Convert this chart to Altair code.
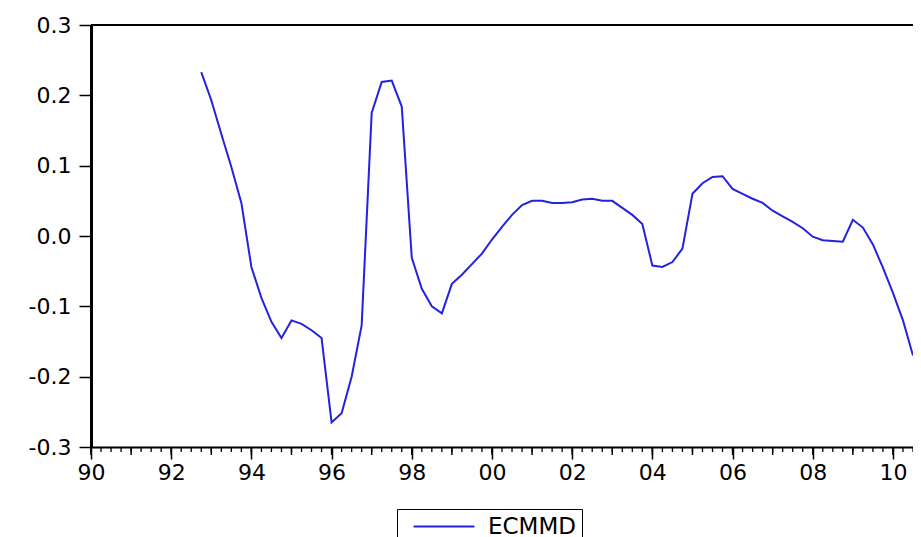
import altair as alt
import pandas as pd

# ---- data ----
series_name = "ECMMD"
start_year, start_quarter = 1992, 4
values = [
    0.233, 0.193, 0.145, 0.098, 0.047,
    -0.044, -0.088, -0.122, -0.145,
    -0.120, -0.125, -0.134, -0.145,
    -0.265, -0.252, -0.200, -0.127,
    0.175, 0.219, 0.221, 0.184,
    -0.031, -0.075, -0.100, -0.110,
    -0.068, -0.055, -0.040, -0.025,
    -0.005, 0.013, 0.030, 0.044,
    0.050, 0.050, 0.047, 0.047,
    0.048, 0.052, 0.053, 0.050,
    0.050, 0.040, 0.030, 0.017,
    -0.042, -0.044, -0.037, -0.018,
    0.060, 0.075, 0.084, 0.085,
    0.067, 0.060, 0.053, 0.047,
    0.036, 0.028, 0.020, 0.011,
    -0.001, -0.006, -0.007, -0.008,
    0.023, 0.012, -0.012, -0.045,
    -0.081, -0.120, -0.170,
]
x_label_years = [1990, 1992, 1994, 1996, 1998, 2000, 2002, 2004, 2006, 2008, 2010]
y_ticks = [-0.3, -0.2, -0.1, 0.0, 0.1, 0.2, 0.3]
x_domain = [1990, 2010.5]
y_domain = [-0.3, 0.3]

# time index (quarterly, plotted at the start of each quarter)
t = []
y, q = start_year, start_quarter
for _ in values:
    t.append(y + (q - 1) / 4)
    q += 1
    if q > 4:
        q = 1
        y += 1

df = pd.DataFrame({"t": t, "v": values, "series": series_name})

quarter_ticks = pd.DataFrame({"t": [1990 + i / 4 for i in range(int((x_domain[1] - 1990) * 4) + 1)]})
year_ticks = pd.DataFrame({"t": list(range(1990, 2011))})

W, H = 822, 422
FONT = "DejaVu Sans"
BLUE = "#2222e0"

xscale = alt.Scale(domain=x_domain, nice=False, zero=False)
yscale = alt.Scale(domain=y_domain, nice=False, zero=False)

line = alt.Chart(df).mark_line(strokeWidth=2).encode(
    x=alt.X("t:Q", scale=xscale,
            axis=alt.Axis(values=x_label_years, title=None, grid=False,
                          labelExpr="substring(toString(datum.value), 2, 4)",
                          tickSize=12, tickWidth=1.5, tickColor="black",
                          domainColor="black", domainWidth=2,
                          labelFont=FONT, labelFontSize=22, labelColor="black",
                          labelPadding=3, labelFlush=False, labelOverlap=False)),
    y=alt.Y("v:Q", scale=yscale,
            axis=alt.Axis(values=y_ticks, title=None, grid=False,
                          labelExpr="(datum.value < 0 ? '-' : '') + format(abs(datum.value), '.1f')",
                          tickSize=12, tickWidth=1.5, tickColor="black",
                          domainColor="black", domainWidth=3,
                          labelFont=FONT, labelFontSize=22, labelColor="black",
                          labelPadding=8, labelFlush=False, labelOverlap=False)),
    color=alt.Color("series:N",
                    scale=alt.Scale(domain=[series_name], range=[BLUE]),
                    legend=alt.Legend(title=None, orient="none", legendX=306, legendY=484,
                                      symbolType="M-0.1,0H6", symbolSize=400,
                                      symbolStrokeWidth=1.8,
                                      labelFont=FONT, labelFontSize=23, labelColor="black",
                                      labelOffset=62, padding=6,
                                      strokeColor="black", fillColor="white")),
)

qt = alt.Chart(quarter_ticks).mark_rule(color="black", strokeWidth=1.3).encode(
    x=alt.X("t:Q", scale=xscale),
    y=alt.value(H), y2=alt.value(H + 5),
)
yt = alt.Chart(year_ticks).mark_rule(color="black", strokeWidth=1.5).encode(
    x=alt.X("t:Q", scale=xscale),
    y=alt.value(H), y2=alt.value(H + 8),
)
top = alt.Chart(pd.DataFrame({"a": [0]})).mark_rule(color="black", strokeWidth=2).encode(
    x=alt.value(0), x2=alt.value(W), y=alt.value(0),
)

chart = alt.layer(line, qt, yt, top).properties(
    width=W, height=H,
    autosize=alt.AutoSizeParams(type="none"),
    padding={"left": 83, "top": 17, "right": 0, "bottom": 90},
    background="white",
).configure_view(stroke=None)

chart.save("out.html", embed_options={"renderer": "svg", "actions": False})
